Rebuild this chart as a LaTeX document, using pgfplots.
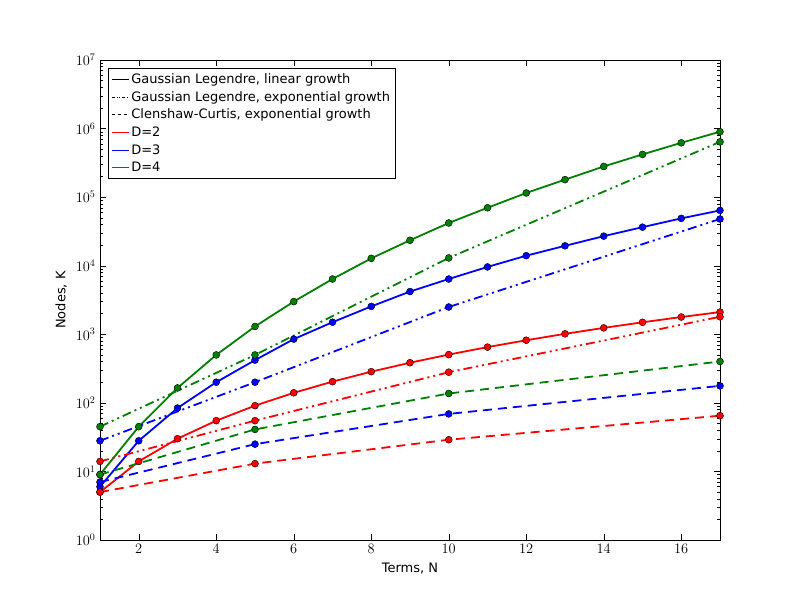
\documentclass[border=0pt]{standalone}
\usepackage{pgfplots}
\pgfplotsset{compat=1.18}
\usepackage{fontspec}
\setmainfont{DejaVu Sans}
\definecolor{mgreen}{rgb}{0,0.5,0}
\begin{document}
\fontsize{13}{15}\selectfont
\begin{tikzpicture}[x=1pt,y=1pt]
\begin{axis}[
  scale only axis, width=620pt, height=480pt,
  ymode=log, xmin=1, xmax=17, ymin=1, ymax=1e7,
  xtick={2,4,...,16},
  ytick={1,10,100,1000,10000,100000,1000000,10000000},
  xlabel={Terms, N}, ylabel={Nodes, K},
  label style={font=\fontsize{13}{15}\selectfont},
  tick label style={font=\fontsize{14}{16}\selectfont},
  tick style={black, thin}, major tick length=6pt, minor tick length=3pt,
  legend style={at={(0.013,0.983)}, anchor=north west, draw=black, font=\fontsize{13}{15}\selectfont, row sep=2pt, inner sep=3pt},
  legend cell align=left,
  mk/.style={line width=1.8pt, mark=*, mark size=3.5pt, mark options={solid, draw=black, line width=0.4pt, fill=#1}},
]
\addlegendimage{black, solid, line width=1pt}\addlegendentry{Gaussian Legendre, linear growth}
\addlegendimage{black, dash dot dot, line width=1pt}\addlegendentry{Gaussian Legendre, exponential growth}
\addlegendimage{black, dashed, line width=1pt}\addlegendentry{Clenshaw-Curtis, exponential growth}
\addlegendimage{red, line width=1pt}\addlegendentry{D=2}
\addlegendimage{blue, line width=1pt}\addlegendentry{D=3}
\addlegendimage{mgreen, line width=1pt}\addlegendentry{D=4}
% solid
\addplot[red, mk=red, forget plot] coordinates {(1,5)(2,14)(3,30)(4,55)(5,91)(6,140)(7,204)(8,285)(9,385)(10,506)(11,650)(12,819)(13,1015)(14,1240)(15,1496)(16,1785)(17,2109)};
\addplot[blue, mk=blue, forget plot] coordinates {(1,6)(2,28)(3,84)(4,200)(5,420)(6,850)(7,1500)(8,2550)(9,4200)(10,6400)(11,9600)(12,14000)(13,19500)(14,27000)(15,36500)(16,49000)(17,64000)};
\addplot[mgreen, mk=mgreen, forget plot] coordinates {(1,9)(2,45)(3,165)(4,500)(5,1300)(6,3000)(7,6400)(8,12800)(9,23500)(10,42000)(11,70000)(12,115000)(13,180000)(14,280000)(15,420000)(16,620000)(17,900000)};
% dash dot
\addplot[red, mk=red, dash pattern=on 9pt off 4pt on 2pt off 4pt on 2pt off 4pt, forget plot] coordinates {(1,14)(5,55)(10,280)(17,1800)};
\addplot[blue, mk=blue, dash pattern=on 9pt off 4pt on 2pt off 4pt on 2pt off 4pt, forget plot] coordinates {(1,28)(5,200)(10,2500)(17,48000)};
\addplot[mgreen, mk=mgreen, dash pattern=on 9pt off 4pt on 2pt off 4pt on 2pt off 4pt, forget plot] coordinates {(1,45)(5,500)(10,13000)(17,640000)};
% dashed
\addplot[red, mk=red, dash pattern=on 9pt off 6pt, forget plot] coordinates {(1,5)(5,13)(10,29)(17,65)};
\addplot[blue, mk=blue, dash pattern=on 9pt off 6pt, forget plot] coordinates {(1,7)(5,25)(10,69)(17,177)};
\addplot[mgreen, mk=mgreen, dash pattern=on 9pt off 6pt, forget plot] coordinates {(1,9)(5,41)(10,137)(17,401)};
\coordinate (sw) at (rel axis cs:0,0);
\coordinate (ne) at (rel axis cs:1,1);
\end{axis}
\useasboundingbox ([shift={(-100pt,-60pt)}]sw) rectangle ([shift={(80pt,60pt)}]ne);
\end{tikzpicture}
\end{document}
